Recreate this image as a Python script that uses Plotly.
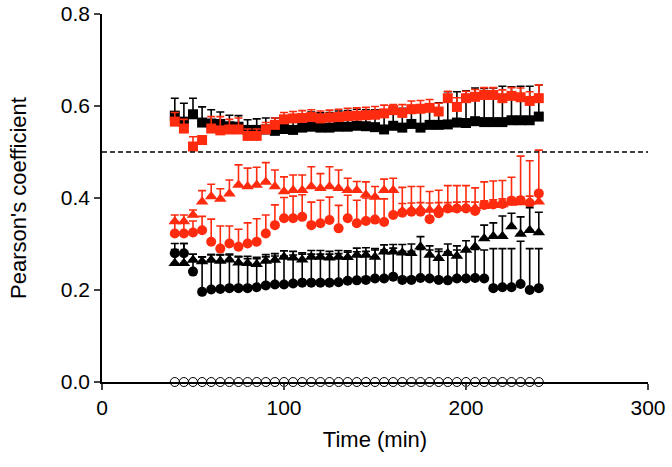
import plotly.graph_objects as go

time_min = [40, 45, 50, 55, 60, 65, 70, 75, 80, 85, 90, 95, 100, 105, 110, 115, 120, 125, 130, 135,
            140, 145, 150, 155, 160, 165, 170, 175, 180, 185, 190, 195, 200, 205, 210, 215, 220, 225,
            230, 235, 240]

black_sq = [0.579, 0.566, 0.582, 0.564, 0.562, 0.561, 0.556, 0.555, 0.548, 0.548, 0.549, 0.546, 0.550,
            0.548, 0.553, 0.555, 0.553, 0.553, 0.555, 0.555, 0.557, 0.556, 0.554, 0.549, 0.557, 0.553,
            0.561, 0.553, 0.559, 0.559, 0.560, 0.564, 0.563, 0.567, 0.565, 0.565, 0.565, 0.569, 0.569,
            0.569, 0.577]
black_sq_err = [0.038, 0.040, 0.035, 0.034, 0.030, 0.026, 0.024, 0.024, 0.022, 0.024, 0.025, 0.028, 0.028,
                0.030, 0.030, 0.032, 0.032, 0.033, 0.034, 0.035, 0.036, 0.036, 0.038, 0.040, 0.038, 0.042,
                0.040, 0.045, 0.045, 0.048, 0.071, 0.067, 0.070, 0.072, 0.073, 0.074, 0.078, 0.073, 0.074,
                0.074, 0.069]

red_sq = [0.566, 0.551, 0.512, 0.526, 0.551, 0.547, 0.549, 0.549, 0.535, 0.535, 0.549, 0.559, 0.571,
          0.573, 0.574, 0.576, 0.573, 0.575, 0.576, 0.578, 0.579, 0.580, 0.581, 0.584, 0.591, 0.585,
          0.593, 0.594, 0.596, 0.588, 0.617, 0.598, 0.617, 0.620, 0.624, 0.624, 0.617, 0.622, 0.619,
          0.611, 0.617]
red_sq_err = [0.020, 0.020, 0.021, 0.008, 0.026, 0.030, 0.022, 0.025, 0.015, 0.015, 0.015, 0.015, 0.015,
              0.015, 0.016, 0.016, 0.016, 0.016, 0.017, 0.017, 0.017, 0.017, 0.018, 0.018, 0.012, 0.018,
              0.018, 0.018, 0.018, 0.018, 0.015, 0.020, 0.015, 0.016, 0.016, 0.016, 0.018, 0.018, 0.020,
              0.020, 0.029]

red_tri = [0.349, 0.349, 0.363, 0.392, 0.403, 0.398, 0.409, 0.428, 0.425, 0.428, 0.435, 0.425, 0.414,
           0.417, 0.417, 0.425, 0.421, 0.425, 0.421, 0.417, 0.417, 0.407, 0.402, 0.417, 0.417, 0.372,
           0.374, 0.376, 0.374, 0.376, 0.375, 0.378, 0.380, 0.378, 0.382, 0.384, 0.386, 0.389, 0.390,
           0.392, 0.392]
red_tri_err = [0.014, 0.014, 0.011, 0.024, 0.027, 0.022, 0.030, 0.044, 0.040, 0.039, 0.042, 0.036, 0.032,
               0.033, 0.033, 0.043, 0.032, 0.043, 0.040, 0.026, 0.019, 0.028, 0.023, 0.024, 0.026, 0.016,
               0.015, 0.014, 0.015, 0.014, 0.015, 0.013, 0.012, 0.013, 0.012, 0.012, 0.012, 0.012, 0.012,
               0.012, 0.012]

red_cir = [0.323, 0.323, 0.325, 0.330, 0.305, 0.290, 0.301, 0.294, 0.301, 0.305, 0.323, 0.341, 0.356,
           0.356, 0.359, 0.341, 0.345, 0.352, 0.334, 0.356, 0.345, 0.350, 0.353, 0.348, 0.363, 0.368,
           0.370, 0.370, 0.354, 0.367, 0.377, 0.377, 0.377, 0.372, 0.385, 0.386, 0.387, 0.394, 0.395,
           0.389, 0.410]
red_cir_err = [0.025, 0.025, 0.025, 0.030, 0.049, 0.049, 0.038, 0.038, 0.045, 0.050, 0.040, 0.044, 0.045,
               0.048, 0.048, 0.050, 0.050, 0.050, 0.050, 0.050, 0.050, 0.050, 0.050, 0.050, 0.050, 0.055,
               0.055, 0.055, 0.060, 0.050, 0.050, 0.050, 0.050, 0.050, 0.050, 0.051, 0.051, 0.051, 0.096,
               0.092, 0.094]

black_tri = [0.258, 0.258, 0.265, 0.262, 0.265, 0.263, 0.266, 0.259, 0.258, 0.256, 0.263, 0.265, 0.272,
             0.270, 0.266, 0.272, 0.272, 0.270, 0.272, 0.271, 0.276, 0.276, 0.272, 0.283, 0.283, 0.281,
             0.280, 0.294, 0.276, 0.269, 0.280, 0.274, 0.287, 0.294, 0.312, 0.317, 0.317, 0.338, 0.322,
             0.330, 0.325]
black_tri_err = [0.030, 0.043, 0.013, 0.010, 0.012, 0.013, 0.012, 0.014, 0.015, 0.015, 0.014, 0.014, 0.013,
                 0.014, 0.015, 0.014, 0.014, 0.014, 0.014, 0.014, 0.015, 0.016, 0.018, 0.015, 0.016, 0.018,
                 0.020, 0.022, 0.020, 0.020, 0.020, 0.022, 0.020, 0.022, 0.029, 0.029, 0.044, 0.029, 0.037,
                 0.049, 0.044]

black_cir = [0.280, 0.280, 0.240, 0.196, 0.201, 0.202, 0.204, 0.204, 0.204, 0.206, 0.210, 0.212, 0.212,
             0.214, 0.216, 0.216, 0.216, 0.216, 0.217, 0.220, 0.221, 0.222, 0.225, 0.225, 0.229, 0.222,
             0.222, 0.226, 0.225, 0.222, 0.221, 0.225, 0.225, 0.226, 0.225, 0.204, 0.206, 0.206, 0.213,
             0.200, 0.204]
black_cir_err = [0.021, 0.021, 0.025, 0.076, 0.076, 0.075, 0.072, 0.068, 0.064, 0.062, 0.062, 0.062, 0.062,
                 0.062, 0.062, 0.062, 0.062, 0.062, 0.062, 0.062, 0.062, 0.062, 0.062, 0.062, 0.062, 0.062,
                 0.062, 0.062, 0.062, 0.062, 0.062, 0.062, 0.062, 0.062, 0.062, 0.086, 0.084, 0.084, 0.093,
                 0.090, 0.086]

open_cir = [0.0] * len(time_min)

RED = "#FF2B0F"
BLACK = "#000000"

series = [
    (black_sq, black_sq_err, "square", BLACK, 10),
    (red_sq, red_sq_err, "square", RED, 10),
    (red_tri, red_tri_err, "triangle-up", RED, 11),
    (red_cir, red_cir_err, "circle", RED, 10),
    (black_tri, black_tri_err, "triangle-up", BLACK, 11),
    (black_cir, black_cir_err, "circle", BLACK, 10),
]

fig = go.Figure()
for vals, errs, sym, col, sz in series:
    fig.add_trace(go.Scatter(
        x=time_min, y=vals, mode="markers",
        marker=dict(symbol=sym, size=sz, color=col, line=dict(width=0)),
        error_y=dict(type="data", symmetric=False, array=errs, arrayminus=[0] * len(errs),
                     color=col, thickness=1.6, width=4),
        showlegend=False, cliponaxis=False,
    ))

fig.add_trace(go.Scatter(
    x=time_min, y=open_cir, mode="markers",
    marker=dict(symbol="circle-open", size=9, color=BLACK, line=dict(width=1, color=BLACK)),
    showlegend=False, cliponaxis=False,
))

fig.add_shape(type="line", x0=0, x1=300, y0=0.5, y1=0.5, xref="x", yref="y",
              line=dict(color=BLACK, width=1.5, dash="5px,3px"))

tick_font = dict(family="Liberation Sans, Arial, sans-serif", size=21, color="black")
title_font = dict(family="Liberation Sans, Arial, sans-serif", size=22, color="black")
fig.update_layout(
    width=672, height=467,
    margin=dict(l=102, r=24, t=14, b=85),
    plot_bgcolor="white", paper_bgcolor="white",
    font=tick_font,
    xaxis=dict(range=[0, 300], tickvals=[0, 100, 200, 300], ticks="outside", ticklen=6,
               tickwidth=1.5, showline=True, linecolor="black", linewidth=1.5, showgrid=False,
               zeroline=False, tickfont=tick_font, automargin=False,
               title=dict(text="Time (min)", font=title_font, standoff=14)),
    yaxis=dict(range=[0, 0.8], tickvals=[0, 0.2, 0.4, 0.6, 0.8], tickformat=".1f",
               ticks="outside", ticklen=6, tickwidth=1.5, showline=True, linecolor="black",
               linewidth=1.5, showgrid=False, zeroline=False, tickfont=tick_font, automargin=False,
               title=dict(text="Pearson's coefficient", font=title_font, standoff=28)),
)

fig.write_html("out.html", config={"displayModeBar": False},
               post_script="document.body.style.margin='0';document.body.style.overflow='hidden';")
